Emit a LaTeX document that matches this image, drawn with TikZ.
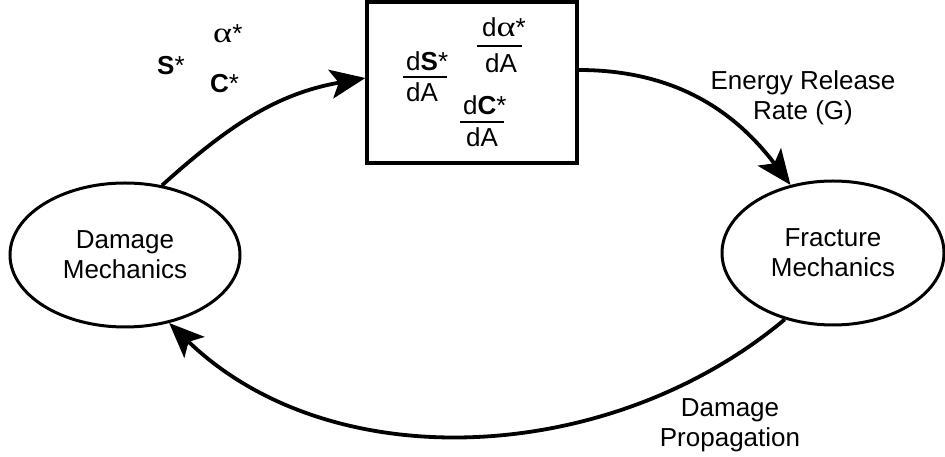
\documentclass[tikz,border=0pt]{standalone}
\usepackage{fontspec}
\usepackage{graphicx}
\setmainfont{Liberation Sans}
\newfontfamily\greekserif{Liberation Serif}
\usetikzlibrary{arrows.meta,shapes.geometric}

\newcommand{\galpha}{{\greekserif\scalebox{1.4}[1.1]{α}}}

\tikzset{
  lbl/.style={font=\fontsize{26}{30}\selectfont, inner sep=0pt},
  mech/.style={draw, line width=3pt, ellipse, minimum width=230pt,
    minimum height=144pt, inner sep=0pt, align=center,
    font=\fontsize{26}{30}\selectfont},
  flow/.style={line width=3.8pt,
    -{Stealth[length=35pt, width=29pt, inset=8pt]}},
  fracbar/.style={line width=1.3pt},
}

\begin{document}
\begin{tikzpicture}[x=1pt,y=1pt]
\useasboundingbox (0,0) rectangle (945,457);

% the two mechanics ellipses
\node[mech] (L) at (125,202) {Damage\\Mechanics};
\node[mech, minimum width=222pt] (R) at (833,204) {Fracture\\Mechanics};

% box of derivatives
\node[draw, line width=3.3pt, minimum width=210pt, minimum height=161pt,
  inner sep=0pt] (B) at (472,374.5) {};

\node[lbl, anchor=base west] (sn) at (406,386) {d\textbf{S}*};
\node[lbl, anchor=base west] (sd) at (406,355) {dA};
\draw[fracbar] (403,380) -- (447,380);

\node[lbl, anchor=base west] (an) at (482,420) {d\galpha*};
\node[lbl, anchor=base west] (ad) at (485,384) {dA};
\draw[fracbar] (477,411) -- (522,411);

\node[lbl, anchor=base west] (cn) at (463,342) {d\textbf{C}*};
\node[lbl, anchor=base west] (cd) at (466,310) {dA};
\draw[fracbar] (460,335) -- (504,335);

% state variables
\node[lbl, anchor=base west] (alpha) at (213,414) {\galpha*};
\node[lbl, anchor=base west] (S) at (157,382) {\textbf{S}*};
\node[lbl, anchor=base west] (C) at (210,364) {\textbf{C}*};

% cycle
\draw[flow] (L.62) to[out=42,in=190] ([yshift=4.5pt]B.west);
\draw[flow] ([yshift=12.5pt]B.east) to[out=0,in=127] (R.122);
\draw[flow] (R.234) to[out=220,in=-44,looseness=0.94] (L.303);

% connector labels (base anchor sits on the last line)
\node[lbl, align=center, anchor=base] (G) at (803,337) {Energy Release\\Rate (G)};
\node[lbl, align=center, anchor=base] (P) at (730,10) {Damage\\Propagation};
\end{tikzpicture}
\end{document}
